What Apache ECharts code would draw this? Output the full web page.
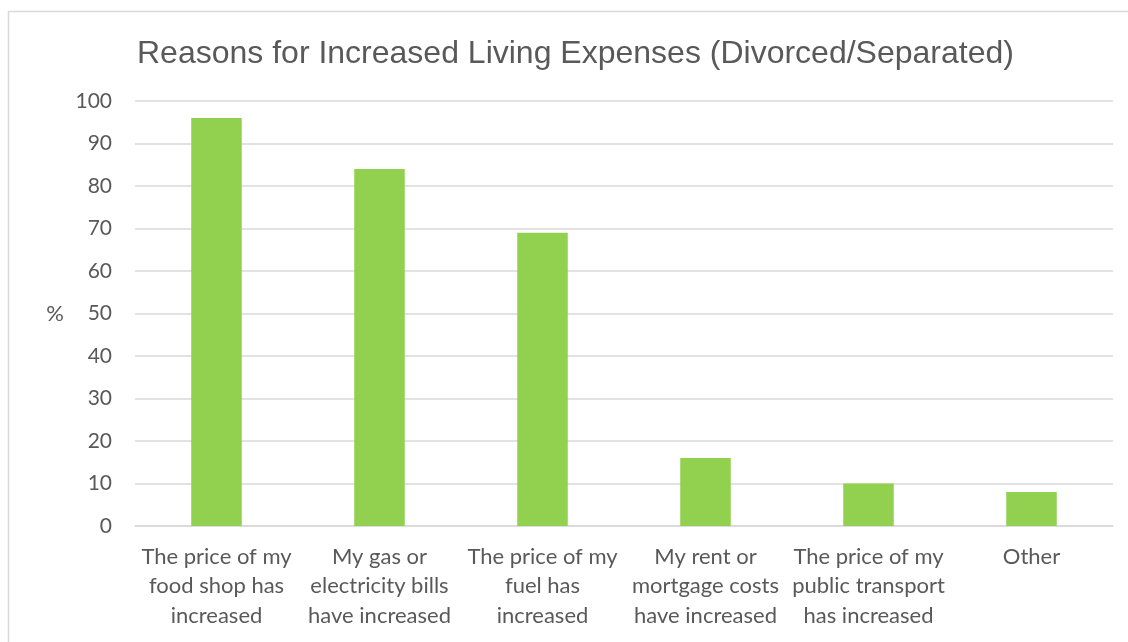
<!DOCTYPE html>
<html>
<head>
<meta charset="utf-8">
<script src="https://cdn.jsdelivr.net/npm/echarts@6/dist/echarts.min.js"></script>
<style>
  html, body { margin: 0; padding: 0; background: #ffffff; }
  #chart { width: 1128px; height: 642px; }
</style>
</head>
<body>
<div id="chart"></div>
<script>
// Survey reasons (divorced / separated respondents), share in percent
const categories = [
  'The price of my\nfood shop has\nincreased',
  'My gas or\nelectricity bills\nhave increased',
  'The price of my\nfuel has\nincreased',
  'My rent or\nmortgage costs\nhave increased',
  'The price of my\npublic transport\nhas increased',
  'Other'
];
const percentages = [96, 84, 69, 16, 10, 8];
const titleText = 'Reasons for Increased Living Expenses (Divorced/Separated)';
const axisName = '%';

const chart = echarts.init(document.getElementById('chart'), null, { renderer: 'canvas' });

chart.setOption({
  backgroundColor: '#ffffff',
  animation: false,
  graphic: [{
    type: 'rect',
    shape: { x: 8.5, y: 11.5, width: 1200, height: 700 },
    style: { fill: 'none', stroke: '#d9d9d9', lineWidth: 1.5 },
    silent: true,
    z: -1
  }],
  title: {
    text: titleText,
    left: 137,
    top: 38,
    padding: 0,
    textStyle: {
      fontFamily: 'Liberation Sans',
      fontSize: 32,
      fontWeight: 'normal',
      color: '#595959'
    }
  },
  grid: { left: 135, right: 15, top: 101, bottom: 116 },
  xAxis: {
    type: 'category',
    data: categories,
    axisLine: { lineStyle: { color: '#d9d9d9', width: 1.5 } },
    axisTick: { show: false },
    axisLabel: {
      interval: 0,
      margin: 16,
      fontFamily: 'Lato',
      fontSize: 22,
      lineHeight: 29.5,
      color: '#595959'
    }
  },
  yAxis: {
    type: 'value',
    min: 0,
    max: 100,
    interval: 10,
    name: axisName,
    nameLocation: 'middle',
    nameRotate: 0,
    nameGap: 71,
    nameTextStyle: { fontFamily: 'Lato', fontSize: 22, color: '#595959' },
    axisLine: { show: false },
    axisTick: { show: false },
    splitLine: { lineStyle: { color: '#d9d9d9', width: 1.5 } },
    axisLabel: {
      margin: 23,
      fontFamily: 'Lato',
      fontSize: 21,
      color: '#595959'
    }
  },
  series: [{
    type: 'bar',
    data: percentages,
    barCategoryGap: '69%',
    itemStyle: { color: '#92d050' }
  }]
});
</script>
</body>
</html>
